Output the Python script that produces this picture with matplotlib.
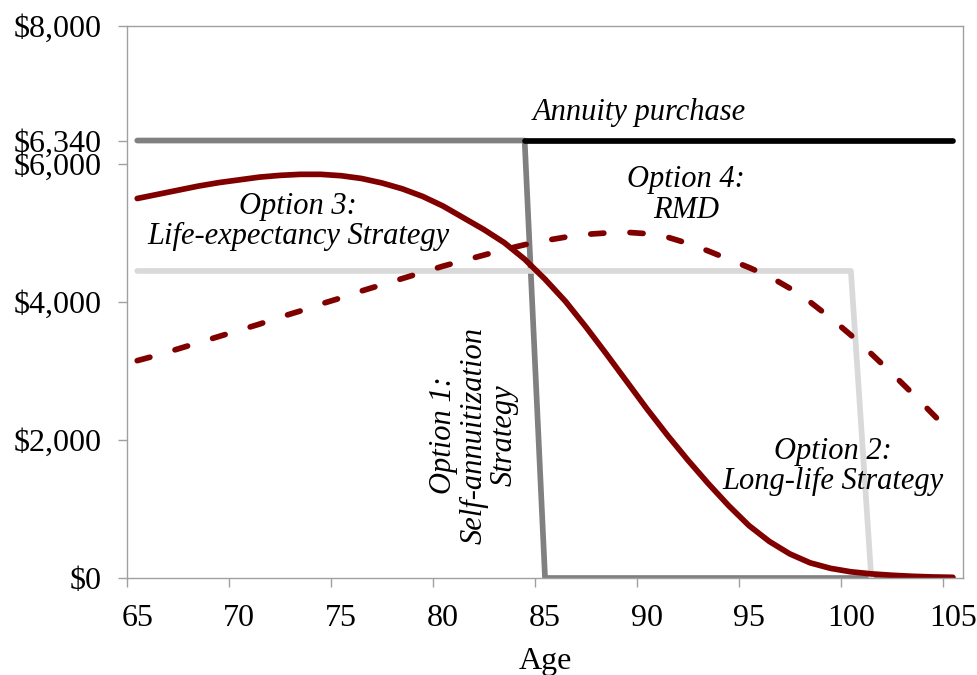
import numpy as np
import matplotlib
matplotlib.use('Agg')
import matplotlib.pyplot as plt

plt.rcParams['font.family'] = ['Liberation Serif', 'DejaVu Serif']

ages = np.arange(65, 106)

# Option 1: self-annuitization, drops to zero at 85
opt1 = [6340] * 20 + [0] * 21
# annuity purchase from 84 on
annuity_ages = np.arange(84, 106)
annuity = [6340] * len(annuity_ages)
# Option 2: long-life strategy
opt2_ages = np.arange(65, 102)
opt2 = [4450] * 36 + [0]
# Option 3: life-expectancy strategy
opt3 = [5500, 5560, 5620, 5680, 5730, 5770, 5810, 5835, 5850, 5850,
        5830, 5790, 5725, 5640, 5530, 5390, 5220, 5050, 4860, 4620,
        4330, 4010, 3640, 3250, 2850, 2450, 2070, 1710, 1370, 1050,
        760, 530, 350, 220, 140, 90, 60, 40, 25, 15, 10]
# Option 4: RMD
opt4 = [3150, 3230, 3320, 3410, 3500, 3590, 3680, 3780, 3870, 3970,
        4060, 4160, 4250, 4340, 4430, 4520, 4600, 4680, 4760, 4830,
        4890, 4940, 4980, 5000, 5010, 4990, 4940, 4850, 4740, 4620,
        4500, 4370, 4200, 4000, 3770, 3520, 3250, 2970, 2680, 2380, 2080]

yticks = [0, 2000, 4000, 6000, 6340, 8000]
ytick_labels = ['$0', '$2,000', '$4,000', '$6,000', '$6,340', '$8,000']
xtick_ages = ages[::5]

fig = plt.figure(figsize=(9.78, 6.75), dpi=100)
ax = fig.add_axes([0.1299, 0.1437, 0.9847 - 0.1299, 0.9615 - 0.1437])

lw = 4.1
ax.plot(ages, opt1, color='#808080', lw=lw, solid_capstyle='round')
ax.plot(annuity_ages, annuity, color='black', lw=lw, solid_capstyle='round')
ax.plot(opt2_ages, opt2, color='#d9d9d9', lw=lw, solid_capstyle='round')
ax.plot(ages, opt3, color='#800000', lw=lw, solid_capstyle='round', solid_joinstyle='round')
ax.plot(ages, opt4, color='#800000', lw=lw, ls=(0, (2.3, 4.6)), dash_capstyle='round')

ax.set_xlim(64.5, 105.5)
ax.set_ylim(0, 8000)

ax.set_yticks(yticks)
ax.set_yticklabels(ytick_labels)
ax.tick_params(axis='y', direction='out', length=6.5, width=1, color='#a0a0a0',
               labelsize=23, pad=12)

ax.set_xticks(xtick_ages)
ax.set_xticklabels([str(a) for a in xtick_ages])
ax.set_xticks(xtick_ages - 0.5, minor=True)
ax.tick_params(axis='x', which='major', length=0, labelsize=23, pad=19)
ax.tick_params(axis='x', which='minor', direction='out', length=6.5, width=1, color='#a0a0a0')
ax.set_xlabel('Age', fontsize=23, labelpad=10)

for s in ax.spines.values():
    s.set_color('#a0a0a0')
    s.set_linewidth(1)

tkw = dict(fontsize=22, style='italic', ha='center', va='center', linespacing=1.05)
ax.text(89.6, 6740, 'Annuity purchase', **tkw)
ax.text(91.9, 5550, 'Option 4:\nRMD', **tkw)
ax.text(72.9, 5170, 'Option 3:\nLife-expectancy Strategy', **tkw)
ax.text(99.1, 1620, 'Option 2:\nLong-life Strategy', **tkw)
ax.text(81.5, 2070, 'Option 1:\nSelf-annuitization\nStrategy', rotation=90,
        multialignment='center', **tkw)

fig.savefig('out.png', dpi=100)
